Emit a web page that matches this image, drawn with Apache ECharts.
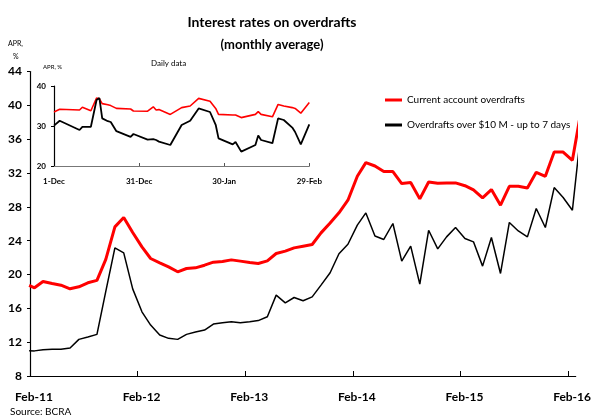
<!DOCTYPE html>
<html><head><meta charset="utf-8">
<script src="https://cdn.jsdelivr.net/npm/echarts@6/dist/echarts.min.js"></script>
<style>html,body{margin:0;padding:0;background:#fff}#c{width:594px;height:419px}</style>
</head><body><div id="c"></div>
<script>
// ---------- DATA ----------
// monthly averages: first obs (end Jan-11), then mid-month Feb-11 ... Feb-16, then partial Mar-16
const firstDate = '2011-01-29';
const lastDate = '2016-03-11';
const currentAccount = [18.71,
  18.43,19.18,18.94,18.74,18.31,18.55,19.02,19.30,21.78,25.63,
  26.73,24.96,23.27,21.89,21.38,20.90,20.32,20.71,20.79,21.10,
  21.46,21.54,21.73,21.58,21.42,21.30,21.61,22.48,22.76,23.15,
  23.35,23.55,24.92,26.10,27.30,28.78,31.61,33.23,32.83,32.17,
  32.17,30.75,30.87,28.94,30.94,30.79,30.83,30.83,30.50,30.00,
  29.05,30.04,28.19,30.43,30.43,30.23,32.08,31.61,34.48,34.48,
  33.50,
  38.6];
const over10M = [10.99,
  10.97,11.10,11.15,11.15,11.30,12.33,12.60,12.92,18.00,23.15,
  22.56,18.30,15.59,14.02,12.84,12.45,12.33,12.92,13.19,13.43,
  14.14,14.29,14.41,14.30,14.40,14.55,15.00,17.56,16.65,17.28,
  16.89,17.36,18.74,20.20,22.45,23.58,25.83,27.28,24.56,24.14,
  26.03,21.58,23.35,18.86,25.23,23.03,24.45,25.56,24.26,23.86,
  20.99,24.38,20.12,26.15,25.15,24.45,27.80,25.56,30.28,29.10,
  27.60,
  35.8];
const mainTickLabels = ['Feb-11','Feb-12','Feb-13','Feb-14','Feb-15','Feb-16'];

// daily data (inset): days since 1-Dec
const dailyDays  = [0,2,9,10,13,15,16,17,19,20,22,27,28,33,35,36,37,41,45,48,51,55,57,58,63,64,66,71,72,73,77,79,81,84,85,87,90];
const dailyRed   = [33.5,34.2,34.0,34.7,33.8,37.0,36.8,35.6,35.3,35.1,34.4,34.25,33.75,33.7,34.8,34.0,34.1,32.9,34.6,35.0,36.9,36.2,34.4,32.9,32.75,32.75,32.1,32.9,33.6,32.9,32.3,35.4,35.0,34.6,34.4,33.2,35.9];
const dailyBlack = [30.1,31.3,29.0,29.8,29.8,36.5,37.0,31.9,31.2,31.0,28.7,27.3,28.0,26.6,26.7,26.5,26.1,25.25,30.25,31.3,34.4,33.5,30.3,26.9,25.4,26.0,23.6,25.25,27.6,26.5,25.7,31.9,31.5,29.6,28.5,25.4,30.4];
const insetTickLabels = {0:'1-Dec',30:'31-Dec',60:'30-Jan',90:'29-Feb'};

const nameA = 'Current account overdrafts';
const nameB = 'Overdrafts over $10 M - up to 7 days';

// ---------- helpers ----------
function monthOffset(s){
  const [y,m,d] = s.split('-').map(Number);
  const dim = new Date(y, m, 0).getDate();
  return (y-2011)*12 + (m-2) + (d-1)/dim;
}
const dates = [firstDate];
for (let y=2011, m=2; !(y===2016 && m===3); ){
  dates.push(y+'-'+String(m).padStart(2,'0')+'-15');
  m++; if (m>12){m=1;y++;}
}
dates.push(lastDate);
const xs = dates.map(monthOffset);
const pairs = arr => arr.map((v,i)=>[xs[i], v]);
const dpairs = arr => arr.map((v,i)=>[dailyDays[i], v]);

const FONT = 'Lato, "Open Sans", sans-serif';
const chart = echarts.init(document.getElementById('c'), null, {renderer:'canvas'});
chart.setOption({
  animation:false,
  backgroundColor:'#fff',
  textStyle:{fontFamily:FONT},
  title:[
    {text:'Interest rates on overdrafts', left:267, top:10, textAlign:'center',
     textStyle:{fontFamily:FONT, fontWeight:'bold', fontSize:14, color:'#000'}},
    {text:'(monthly average)', left:267, top:33, textAlign:'center',
     textStyle:{fontFamily:FONT, fontWeight:'bold', fontSize:13, color:'#000'}}
  ],
  legend:{
    data:[nameA,nameB], orient:'vertical', left:380, top:90, itemGap:15,
    itemWidth:17, itemHeight:3, icon:'rect',
    textStyle:{fontFamily:FONT, fontSize:10, color:'#000'}
  },
  grid:[
    {left:30, top:71.5, right:14.7, height:304.5},
    {left:54, top:86, width:255.3, height:80}
  ],
  xAxis:[
    {type:'value', gridIndex:0, min:0, max:60.85, interval:12,
     axisLine:{lineStyle:{color:'#000', width:1.2}},
     axisTick:{inside:true, length:5, customValues:[12,24,36,48,60], lineStyle:{color:'#000'}},
     axisLabel:{customValues:[0,12,24,36,48,60], formatter:v=>mainTickLabels[Math.round(v/12)],
       margin:15, padding:[0,0,0,8], fontFamily:FONT, fontWeight:'bold', fontSize:12, color:'#000'},
     splitLine:{show:false}},
    {type:'value', gridIndex:1, min:0, max:90, interval:30,
     axisLine:{lineStyle:{color:'#777', width:1.2}},
     axisTick:{inside:true, length:3, customValues:[30,60,90], lineStyle:{color:'#555'}},
     axisLabel:{customValues:[0,30,60,90], formatter:v=>insetTickLabels[v],
       margin:11, fontFamily:FONT, fontWeight:'bold', fontSize:8, color:'#000'},
     splitLine:{show:false}}
  ],
  yAxis:[
    {type:'value', gridIndex:0, min:8, max:44, interval:4,
     axisLine:{show:true, lineStyle:{color:'#000', width:1.2}},
     axisTick:{show:true, length:3, lineStyle:{color:'#000'}},
     axisLabel:{margin:8, fontFamily:FONT, fontWeight:'bold', fontSize:12, color:'#000'},
     splitLine:{show:false}},
    {type:'value', gridIndex:1, min:20, max:40, interval:10,
     axisLine:{show:true, lineStyle:{color:'#000', width:1.2}},
     axisTick:{show:true, length:3, lineStyle:{color:'#000'}},
     axisLabel:{margin:8, fontFamily:FONT, fontWeight:'bold', fontSize:8, color:'#000'},
     splitLine:{show:false}}
  ],
  series:[
    {name:nameA, type:'line', xAxisIndex:0, yAxisIndex:0, data:pairs(currentAccount),
     showSymbol:false, clip:false, color:'#ff0000', lineStyle:{color:'#ff0000', width:3}},
    {name:nameB, type:'line', xAxisIndex:0, yAxisIndex:0, data:pairs(over10M),
     showSymbol:false, clip:false, color:'#000', lineStyle:{color:'#000', width:1.5}},
    {name:'daily-current', type:'line', xAxisIndex:1, yAxisIndex:1, data:dpairs(dailyRed),
     showSymbol:false, clip:false, color:'#ff0000', lineStyle:{color:'#ff0000', width:1.6}},
    {name:'daily-over10M', type:'line', xAxisIndex:1, yAxisIndex:1, data:dpairs(dailyBlack),
     showSymbol:false, clip:false, color:'#000', lineStyle:{color:'#000', width:1.8}}
  ],
  graphic:[
    {type:'text', left:8, top:40, style:{text:'APR,', font:'7px '+FONT, fill:'#000'}},
    {type:'text', left:13, top:53, style:{text:'%', font:'7px '+FONT, fill:'#000'}},
    {type:'text', left:43, top:64, style:{text:'APR, %', font:'6px '+FONT, fill:'#000'}},
    {type:'text', left:151, top:59, style:{text:'Daily data', font:'8px '+FONT, fill:'#000'}},
    {type:'text', left:10, top:407, style:{text:'Source: BCRA', font:'10px '+FONT, fill:'#000'}}
  ]
});
</script></body></html>
